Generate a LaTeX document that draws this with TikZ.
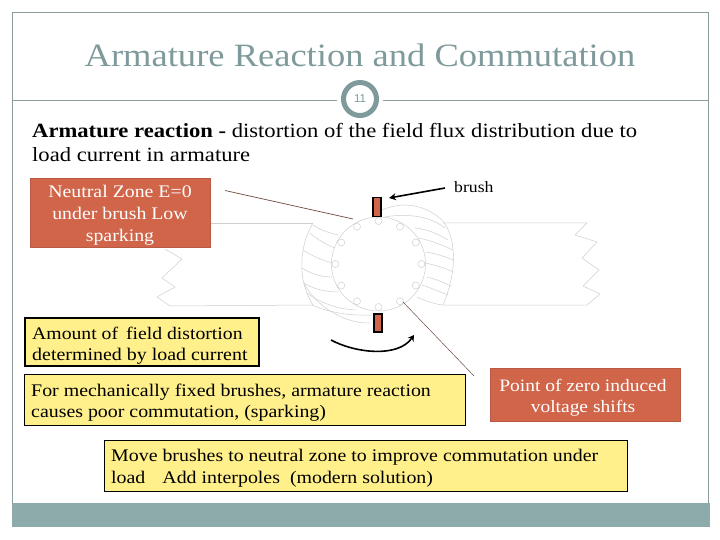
\documentclass[tikz,border=0pt]{standalone}
\usepackage{fontspec}
\setmainfont[FakeStretch=1.12]{Liberation Serif}
\newfontfamily\numfont{Liberation Sans}
\usetikzlibrary{arrows.meta}
\definecolor{teal}{HTML}{8EABAC}
\definecolor{tealdark}{HTML}{7F9A9B}
\definecolor{framegray}{HTML}{8A9C9C}
\definecolor{terra}{HTML}{D0654A}
\definecolor{terrab}{HTML}{B85A44}
\definecolor{yel}{HTML}{FFF08C}
\definecolor{sketch}{HTML}{CFCFCF}
\definecolor{leader}{HTML}{6E4A3E}
\tikzset{
  px/.style={x=1pt,y=-1pt},
  txt/.style={anchor=base west,inner sep=0pt,font=\fontsize{#1}{#1}\selectfont},
  ctxt/.style={anchor=base,inner sep=0pt,font=\fontsize{#1}{#1}\selectfont},
  sk/.style={draw=sketch,line width=0.5pt},
  slot/.style={draw=sketch,line width=0.5pt,fill=white},
  brushbox/.style={draw=black,line width=1.5pt,fill=terra},
  yb/.style={draw=black,line width=0.8pt,fill=yel},
  rb/.style={draw=terrab,line width=0.6pt,fill=terra},
}
\begin{document}
\begin{tikzpicture}[px]
\useasboundingbox (0,0) rectangle (720,540);
\fill[white] (0,0) rectangle (720,540);
% frame
\draw[framegray,line width=0.9pt] (12.5,503) -- (12.5,12.5) -- (708,12.5) -- (708,503);
\fill[teal] (11.5,503) rectangle (710,527);
% title
\node[ctxt=32.6,text=tealdark] (title) at (360,67) {Armature Reaction and Commutation};
\coordinate (ruleL) at (12.5,100);
\coordinate (ruleLe) at (337,100);
\coordinate (ruleRs) at (383,100);
\coordinate (ruleR) at (708,100);
\draw[framegray,line width=0.8pt] (ruleL) -- (ruleLe) (ruleRs) -- (ruleR);
\node[circle,draw=tealdark,line width=5pt,minimum size=33pt,inner sep=0pt,fill=white,text=tealdark,font=\numfont\fontsize{11.5}{11.5}\selectfont] (num) at (360,99) {11};
% body text
\node[txt=20.2] (l1) at (32,138) {\textbf{Armature reaction -} distortion of the field flux distribution due to};
\node[txt=20.2] (l2) at (32,162) {load current in armature};
% motor sketch
\draw[sk] (210,223) -- (313,223);
\draw[sk] (170,306) -- (313,305);
\draw[sk] (443,223) -- (587,223) -- (575,235) -- (597,242) -- (582,258) -- (599,270) -- (583,286) -- (600,294) -- (587,305) -- (443,305);
\draw[sk] (165,249) -- (182,259) -- (162,278) -- (175,287) -- (157,297) -- (170,306);
% armature
\draw[sk] (378.5,264) circle (47);
\foreach \a in {0,30,...,330}
  \draw[slot] (378.5,264) ++(\a:43) circle (3.5);
% left pole
\draw[sk] (313,223) .. controls (298,248) and (298,282) .. (313,305);
\draw[sk] (313,225) .. controls (322,231) and (330,233) .. (338,235);
\draw[sk] (310,233) .. controls (318,240) and (327,245) .. (335,248);
\draw[sk] (303,250) .. controls (312,256) and (322,260) .. (332,263);
\draw[sk] (302,268) .. controls (311,274) and (322,277) .. (332,277);
\draw[sk] (304,283) .. controls (313,289) and (326,292) .. (338,292);
\draw[sk] (307,293) .. controls (320,303) and (338,309) .. (355,310);
\draw[sk] (312,305) .. controls (330,313) and (352,316) .. (372,315);
\draw[sk] (304,283) .. controls (315,306) and (345,324) .. (370,323);
% right pole
\draw[sk] (382,210) .. controls (395,204) and (420,200) .. (442,220) .. controls (456,236) and (458,270) .. (443,305);
\draw[sk] (385,217) .. controls (395,215) and (425,212) .. (445,228);
\draw[sk] (415,228) .. controls (427,229) and (438,234) .. (448,240);
\draw[sk] (418,238) .. controls (430,240) and (442,245) .. (453,250);
\draw[sk] (425,252) .. controls (435,253) and (445,257) .. (454,260);
\draw[sk] (425,263) .. controls (435,265) and (445,268) .. (453,272);
\draw[sk] (427,277) .. controls (435,279) and (443,282) .. (451,286);
\draw[sk] (422,285) .. controls (431,288) and (440,292) .. (448,295);
\draw[sk] (417,297) .. controls (426,301) and (434,304) .. (443,305);
% brushes
\node[brushbox,minimum width=8pt,minimum height=19pt,inner sep=0pt] (brushT) at (377,207) {};
\node[brushbox,minimum width=8pt,minimum height=18pt,inner sep=0pt] (brushB) at (378,323) {};
% boxes
\node[rb,minimum width=180pt,minimum height=69pt,inner sep=0pt] (neutral) at (120,212.5) {};
\node[ctxt=17.7,text=white] (n1) at (120,197) {Neutral Zone E=0};
\node[ctxt=17.7,text=white] (n2) at (120,219) {under brush Low};
\node[ctxt=17.7,text=white] (n3) at (120,241) {sparking};
\node[draw=black,line width=2pt,fill=yel,minimum width=234pt,minimum height=48pt,inner sep=0pt] (amount) at (142,342) {};
\node[txt=17.6] at (32,339) {Amount of\, field distortion};
\node[txt=17.8] at (32,360) {determined by load current};
\node[yb,minimum width=441pt,minimum height=51pt,inner sep=0pt] (fixed) at (244.5,400) {};
\node[txt=17.75] at (31,396) {For mechanically fixed brushes, armature reaction};
\node[txt=17.75] at (31,417) {causes poor commutation, (sparking)};
\node[rb,minimum width=190pt,minimum height=53pt,inner sep=0pt] (zero) at (585,394.5) {};
\node[ctxt=17.4,text=white] at (583,391) {Point of zero induced};
\node[ctxt=17.4,text=white] at (583,412) {voltage shifts};
\node[yb,minimum width=523pt,minimum height=51pt,inner sep=0pt] (move) at (365.5,465.5) {};
\node[txt=17.75] at (111,461) {Move brushes to neutral zone to improve commutation under};
\node[txt=17.75] at (111,483) {load\hspace{17pt}Add interpoles\hspace{5pt} (modern solution)};
\node[txt=15.8] (brush) at (454,193) {brush};
% connectors
\coordinate (ldA) at (225,190.5);
\coordinate (ldB) at (353,219);
\draw[leader,line width=0.7pt] (ldA) -- (ldB);
\coordinate (ptA) at (403,302);
\coordinate (ptB) at (474,376);
\draw[leader,line width=0.5pt] (ptA) -- (ptB);
\coordinate (brA) at (445,188);
\coordinate (brB) at (389,198);
\draw[-{Stealth[length=7pt,width=7pt]},line width=1.6pt] (brA) -- (brB);
\coordinate (curA) at (331,340);
\coordinate (curB) at (414,335);
\draw[-{Stealth[length=6pt,width=7pt]},line width=1.6pt] (curA) .. controls (355,353) and (398,358) .. (curB);
\end{tikzpicture}
\end{document}
